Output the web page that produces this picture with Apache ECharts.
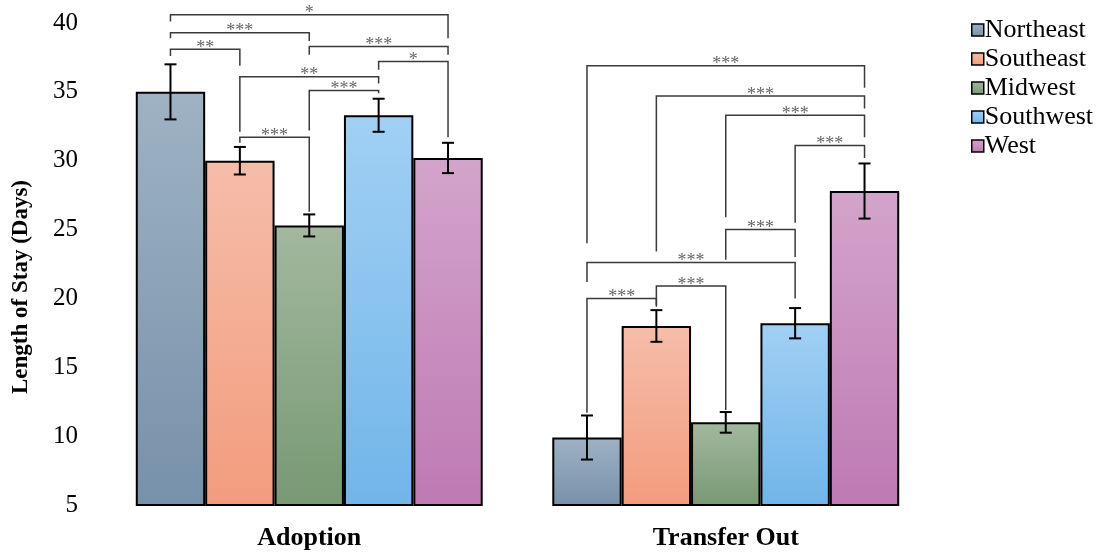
<!DOCTYPE html>
<html>
<head>
<meta charset="utf-8">
<script src="https://cdn.jsdelivr.net/npm/echarts@6/dist/echarts.min.js"></script>
<style>
  html, body { margin: 0; padding: 0; background: #fff; }
  #main { width: 1099px; height: 552px; }
</style>
</head>
<body>
<div id="main"></div>
<script>
const categories = ['Adoption', 'Transfer Out']
const regions = ['Northeast', 'Southeast', 'Midwest', 'Southwest', 'West']
const yTicks = [5, 10, 15, 20, 25, 30, 35, 40]

// mean length of stay, one value per region
const meanAdoption = [35.0, 30.0, 25.3, 33.3, 30.2]
const meanTransfer = [9.9, 18.0, 11.0, 18.2, 27.8]
// error bar half-widths
const errAdoption = [2.0, 1.0, 0.8, 1.2, 1.1]
const errTransfer = [1.6, 1.15, 0.75, 1.1, 2.0]

// significance brackets: [fromRegion, toRegion, lineY, leftLegEnd, rightLegEnd]
const bracketsAdoption = [
  [0, 4, 40.6, 40.1, 38.9],
  [0, 2, 39.3, 38.9, 38.7],
  [0, 1, 38.1, 37.6, 36.9],
  [2, 4, 38.3, 37.7, 37.7],
  [3, 4, 37.2, 36.6, 31.7],
  [1, 3, 36.1, 32.1, 35.6],
  [2, 3, 35.1, 32.2, 34.9],
  [1, 2, 31.7, 31.3, 26.3]
]
const starsAdoption = ['*', '***', '**', '***', '*', '**', '***', '***']
const bracketsTransfer = [
  [0, 4, 36.9, 24.0, 35.3],
  [1, 4, 34.7, 23.4, 33.8],
  [2, 4, 33.3, 25.9, 31.7],
  [3, 4, 31.1, 25.5, 30.2],
  [2, 3, 25.0, 22.8, 23.0],
  [0, 3, 22.6, 21.2, 20.0],
  [1, 2, 20.9, 19.4, 11.9],
  [0, 1, 20.0, 11.7, 19.5]
]
const starsTransfer = ['***', '***', '***', '***', '***', '***', '***', '***']

const colorTop = ['#9eb2c3', '#f5bda9', '#a3b89f', '#a1d0f4', '#d3a4cb']
const colorBottom = ['#7791aa', '#f39c7d', '#779973', '#71b5e9', '#be7ab3']

const barCategoryGap = 0.167
const serif = '"Liberation Serif", "Times New Roman", serif'

function barCenter(api, cat, region) {
  const band = api.size([1, 0])[0]
  const bw = band * (1 - barCategoryGap) / regions.length
  const c = api.coord([cat, 0])[0]
  return c + (region - (regions.length - 1) / 2) * bw
}

const barSeries = regions.map((name, i) => ({
  name: name,
  type: 'bar',
  barGap: '0%',
  barCategoryGap: (barCategoryGap * 100) + '%',
  data: [meanAdoption[i], meanTransfer[i]],
  itemStyle: {
    color: new echarts.graphic.LinearGradient(0, 0, 0, 1, [
      { offset: 0, color: colorTop[i] },
      { offset: 1, color: colorBottom[i] }
    ]),
    borderColor: '#000',
    borderWidth: 2
  }
}))

const errData = []
regions.forEach((r, i) => {
  errData.push([0, i, meanAdoption[i] - errAdoption[i], meanAdoption[i] + errAdoption[i]])
  errData.push([1, i, meanTransfer[i] - errTransfer[i], meanTransfer[i] + errTransfer[i]])
})

const bracketData = []
const bracketStars = []
bracketsAdoption.forEach((b, k) => { bracketData.push([0].concat(b)); bracketStars.push(starsAdoption[k]) })
bracketsTransfer.forEach((b, k) => { bracketData.push([1].concat(b)); bracketStars.push(starsTransfer[k]) })

const chart = echarts.init(document.getElementById('main'))

chart.setOption({
  animation: false,
  grid: { left: 101, right: 165, top: 23, bottom: 47 },
  legend: {
    orient: 'vertical',
    left: 966,
    top: 12,
    itemWidth: 12,
    itemHeight: 12,
    itemGap: 3,
    icon: 'rect',
    data: regions,
    itemStyle: { borderColor: '#000', borderWidth: 1.5 },
    textStyle: { fontFamily: serif, fontSize: 26, color: '#000', padding: [0, 0, 0, -4] }
  },
  xAxis: {
    type: 'category',
    data: categories,
    axisLine: { show: false },
    axisTick: { show: false },
    axisLabel: { fontFamily: serif, fontSize: 26, fontWeight: 'bold', color: '#000', margin: 20 }
  },
  yAxis: {
    type: 'value',
    min: 5,
    max: 40,
    interval: 5,
    splitLine: { show: false },
    axisLine: { show: false },
    axisTick: { show: false },
    axisLabel: {
      fontFamily: serif, fontSize: 25, color: '#000', margin: 23,
      formatter: v => (yTicks.indexOf(v) >= 0 ? String(v) : '')
    },
    name: 'Length of Stay (Days)',
    nameLocation: 'middle',
    nameGap: 68,
    nameTextStyle: { fontFamily: serif, fontSize: 23, fontWeight: 'bold', color: '#000', padding: [0, 46, 0, 0] }
  },
  series: barSeries.concat([
    {
      type: 'custom',
      name: 'err',
      data: errData,
      z: 5,
      renderItem: function (params, api) {
        const cat = api.value(0)
        const x = barCenter(api, cat, api.value(1))
        const y1 = api.coord([cat, api.value(2)])[1]
        const y2 = api.coord([cat, api.value(3)])[1]
        const style = { stroke: '#000', lineWidth: 2 }
        return {
          type: 'group',
          children: [
            { type: 'line', shape: { x1: x, y1: y1, x2: x, y2: y2 }, style: style },
            { type: 'line', shape: { x1: x - 6, y1: y1, x2: x + 6, y2: y1 }, style: style },
            { type: 'line', shape: { x1: x - 6, y1: y2, x2: x + 6, y2: y2 }, style: style }
          ]
        }
      }
    },
    {
      type: 'custom',
      name: 'sig',
      data: bracketData,
      z: 4,
      renderItem: function (params, api) {
        const cat = api.value(0)
        const xa = barCenter(api, cat, api.value(1))
        const xb = barCenter(api, cat, api.value(2))
        const yh = api.coord([cat, api.value(3)])[1]
        const yl = api.coord([cat, api.value(4)])[1]
        const yr = api.coord([cat, api.value(5)])[1]
        const style = { stroke: '#3a3a3a', lineWidth: 1.5 }
        return {
          type: 'group',
          children: [
            { type: 'polyline', shape: { points: [[xa, yl], [xa, yh], [xb, yh], [xb, yr]] }, style: Object.assign({ fill: 'none' }, style) },
            {
              type: 'text',
              style: {
                x: (xa + xb) / 2, y: yh - 1,
                text: bracketStars[params.dataIndex],
                fill: '#666',
                font: '18px ' + serif,
                align: 'center',
                verticalAlign: 'middle'
              }
            }
          ]
        }
      }
    }
  ])
})
</script>
</body>
</html>
